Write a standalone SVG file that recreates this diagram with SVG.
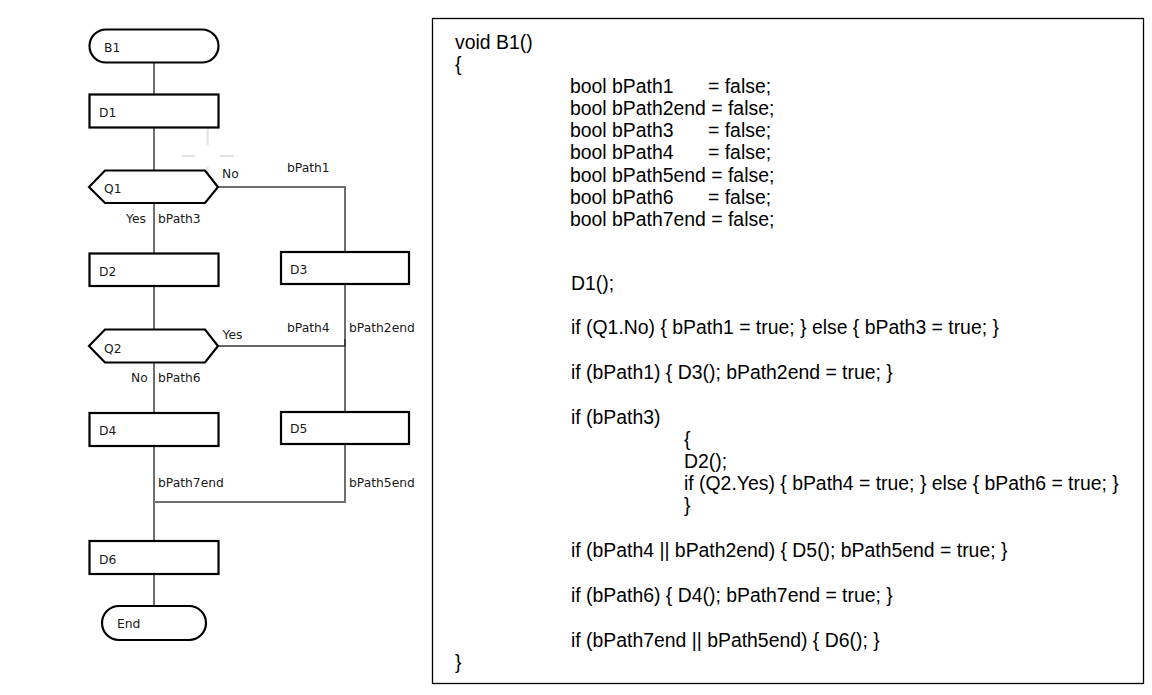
<svg xmlns="http://www.w3.org/2000/svg" width="1152" height="695" viewBox="0 0 1152 695">
<style>
.nd{fill:#fff;stroke:#000;stroke-width:2.2}
.lb{font-family:"DejaVu Sans","Liberation Sans",sans-serif;font-size:12.3px;fill:#1a1a1a}
.cn{fill:none;stroke:#6e6e6e;stroke-width:2}
.cd{font-family:"Liberation Sans",Arial,sans-serif;font-size:19.4px;fill:#000}
.fx{fill:none;stroke:#e2e2e2;stroke-width:2}
</style>
<rect width="1152" height="695" fill="#fff"/>
<g id="artifacts">
<path class="fx" d="M207.7 128V145M207.7 167V183M181.7 156H195M220 156H234"/>
</g>
<g id="connectors">
<path class="cn" d="M154 63V94"/>
<path class="cn" d="M154 128V170"/>
<path class="cn" d="M154 203V253"/>
<path class="cn" d="M218 187H345V252"/>
<path class="cn" d="M154 286V329"/>
<path class="cn" d="M345 284V412"/>
<path fill="none" stroke="#333" stroke-width="1.6" d="M218 346H345V339"/>
<path class="cn" d="M154 363V413"/>
<path class="cn" d="M345 444V502H154"/>
<path class="cn" d="M154 446V541"/>
<path class="cn" d="M154 574V606"/>
</g>
<g id="B1"><rect class="nd" x="89.5" y="29.5" width="129" height="33" rx="16.5"/><text class="lb" x="104" y="52">B1</text></g>
<g id="D1"><rect class="nd" x="89.5" y="94.5" width="129" height="33"/><text class="lb" x="99" y="117">D1</text></g>
<g id="Q1"><polygon class="nd" points="89,187 105,170.5 205,170.5 218,187 205,203 105,203"/><text class="lb" x="104" y="193">Q1</text></g>
<g id="D2"><rect class="nd" x="89.5" y="253.5" width="129" height="32.5"/><text class="lb" x="99" y="276">D2</text></g>
<g id="D3"><rect class="nd" x="281" y="252" width="128" height="32"/><text class="lb" x="290" y="274">D3</text></g>
<g id="Q2"><polygon class="nd" points="89,346 105,329.5 205,329.5 218,346 205,362.5 105,362.5"/><text class="lb" x="104" y="353">Q2</text></g>
<g id="D4"><rect class="nd" x="89.5" y="413" width="129" height="33"/><text class="lb" x="99" y="435">D4</text></g>
<g id="D5"><rect class="nd" x="281" y="412" width="128" height="32"/><text class="lb" x="290" y="433">D5</text></g>
<g id="D6"><rect class="nd" x="89.5" y="541" width="129" height="33"/><text class="lb" x="99" y="564">D6</text></g>
<g id="End"><rect class="nd" x="102" y="606" width="104" height="34" rx="17"/><text class="lb" x="117" y="628">End</text></g>
<g id="labels">
<text class="lb" x="222" y="178">No</text>
<text class="lb" x="287" y="172">bPath1</text>
<text class="lb" x="126" y="223">Yes</text>
<text class="lb" x="158" y="223">bPath3</text>
<text class="lb" x="222.5" y="339">Yes</text>
<text class="lb" x="287" y="332">bPath4</text>
<text class="lb" x="349" y="332">bPath2end</text>
<text class="lb" x="131" y="382">No</text>
<text class="lb" x="158" y="382">bPath6</text>
<text class="lb" x="158" y="487">bPath7end</text>
<text class="lb" x="349" y="487">bPath5end</text>
</g>
<g id="code">
<rect x="432.5" y="18.5" width="711" height="665" fill="none" stroke="#000" stroke-width="1.3"/>
<text class="cd" x="455" y="49">void B1()</text>
<text class="cd" x="455" y="71">{</text>
<text class="cd" x="570" y="93">bool bPath1</text><text class="cd" x="708" y="93">= false;</text>
<text class="cd" x="570" y="115">bool bPath2end = false;</text>
<text class="cd" x="570" y="137">bool bPath3</text><text class="cd" x="708" y="137">= false;</text>
<text class="cd" x="570" y="159">bool bPath4</text><text class="cd" x="708" y="159">= false;</text>
<text class="cd" x="570" y="181.5">bool bPath5end = false;</text>
<text class="cd" x="570" y="203.5">bool bPath6</text><text class="cd" x="708" y="203.5">= false;</text>
<text class="cd" x="570" y="226">bool bPath7end = false;</text>
<text class="cd" x="571" y="290">D1();</text>
<text class="cd" x="571" y="334">if (Q1.No) { bPath1 = true; } else { bPath3 = true; }</text>
<text class="cd" x="571" y="379">if (bPath1) { D3(); bPath2end = true; }</text>
<text class="cd" x="571" y="424">if (bPath3)</text>
<text class="cd" x="684" y="446">{</text>
<text class="cd" x="684" y="468">D2();</text>
<text class="cd" x="684" y="490">if (Q2.Yes) { bPath4 = true; } else { bPath6 = true; }</text>
<text class="cd" x="684" y="512">}</text>
<text class="cd" x="571" y="557">if (bPath4 || bPath2end) { D5(); bPath5end = true; }</text>
<text class="cd" x="571" y="602">if (bPath6) { D4(); bPath7end = true; }</text>
<text class="cd" x="571" y="647">if (bPath7end || bPath5end) { D6(); }</text>
<text class="cd" x="455" y="669">}</text>
</g>
</svg>
